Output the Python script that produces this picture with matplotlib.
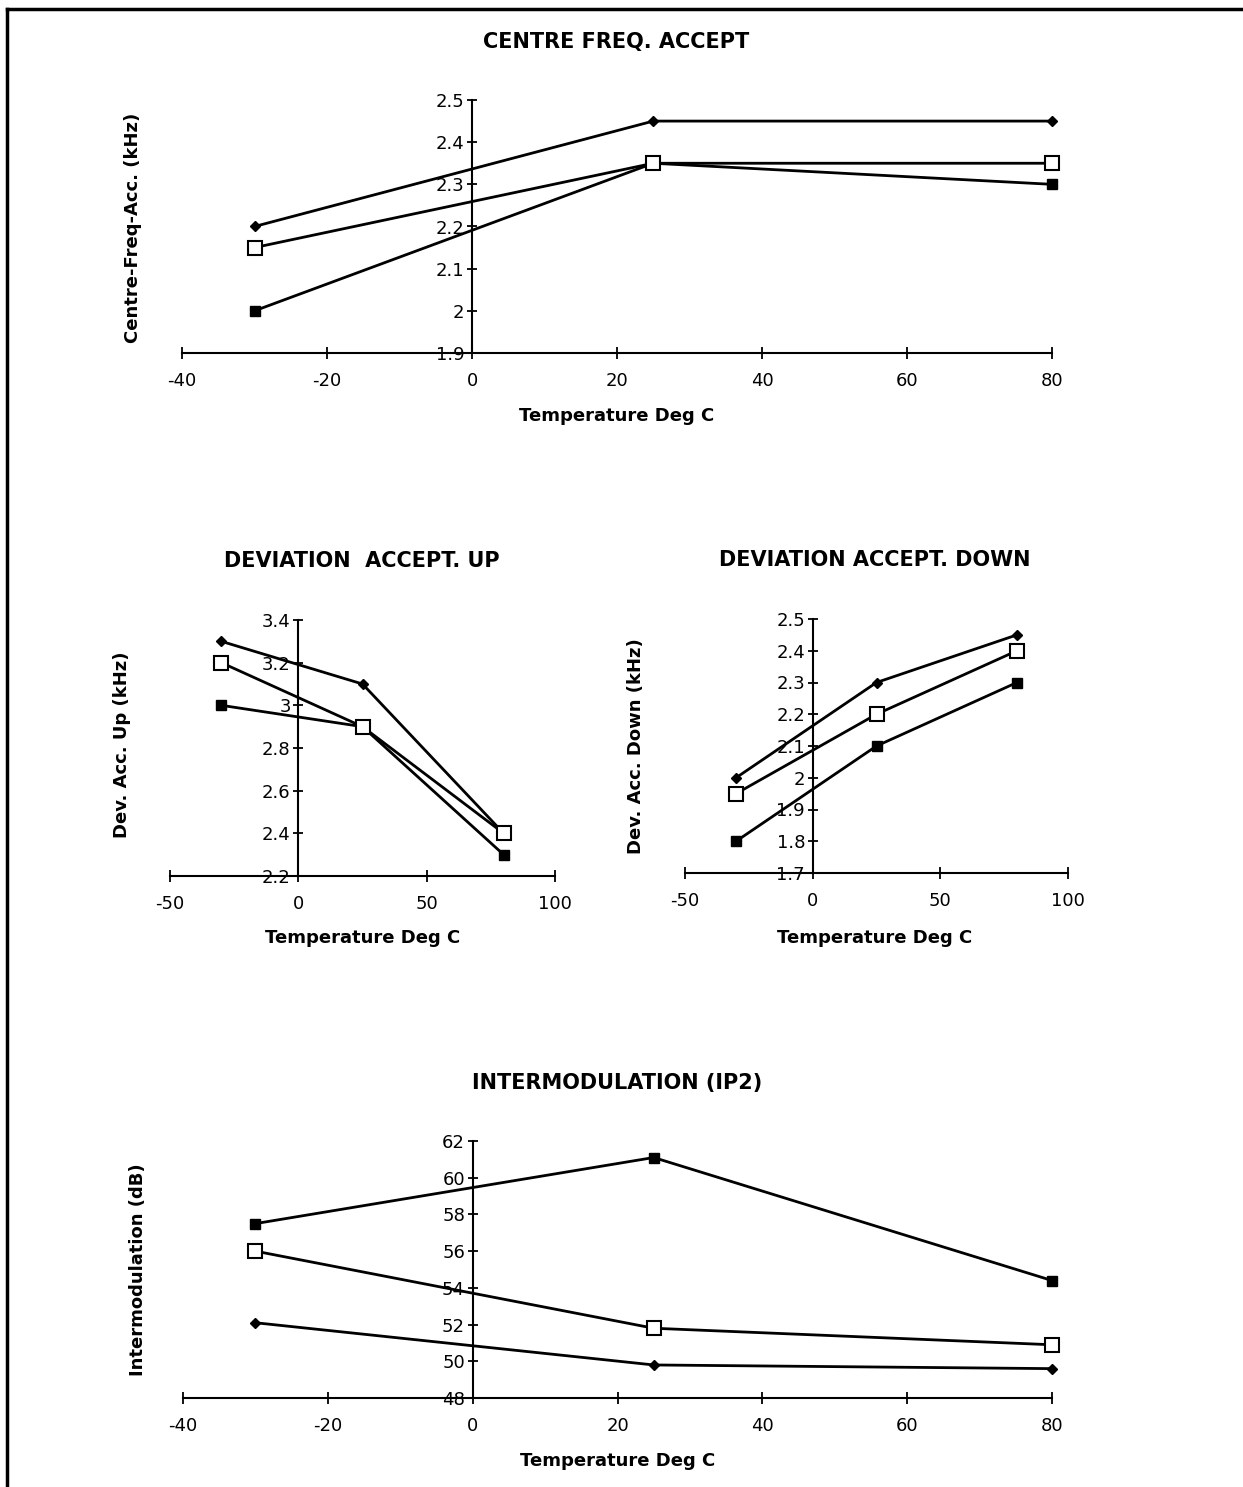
import matplotlib
matplotlib.use("Agg")
import matplotlib.pyplot as plt
from matplotlib.lines import Line2D

plt.rcParams['font.family'] = ['DejaVu Sans']
plt.rcParams['axes.unicode_minus'] = False

temps = [-30, 25, 80]

# Centre freq accept (kHz)
cf_diamond = [2.20, 2.45, 2.45]
cf_open = [2.15, 2.35, 2.35]
cf_filled = [2.00, 2.35, 2.30]

# Deviation accept up (kHz)
up_diamond = [3.3, 3.1, 2.4]
up_open = [3.2, 2.9, 2.4]
up_filled = [3.0, 2.9, 2.3]

# Deviation accept down (kHz)
dn_diamond = [2.00, 2.30, 2.45]
dn_open = [1.95, 2.20, 2.40]
dn_filled = [1.80, 2.10, 2.30]

# Intermodulation IP2 (dB)
im_filled = [57.5, 61.1, 54.4]
im_open = [56.0, 51.8, 50.9]
im_diamond = [52.1, 49.8, 49.6]

fig = plt.figure(figsize=(12.43, 14.87), dpi=100)

# frame (top and left)
fig.add_artist(Line2D([7/1243, 7/1243], [0, 1 - 9/1487], transform=fig.transFigure, color='black', lw=2.5))
fig.add_artist(Line2D([7/1243, 1], [1 - 9/1487, 1 - 9/1487], transform=fig.transFigure, color='black', lw=2.5))


def px_rect(l, r, t, b):
    W, H = 1243, 1487
    return [l / W, 1 - b / H, (r - l) / W, (b - t) / H]


def style(ax, xlim, xticks, ylim, yticks, yfmt):
    ax.set_xlim(*xlim)
    ax.set_ylim(*ylim)
    ax.set_xticks(xticks)
    ax.set_yticks(yticks)
    ax.set_yticklabels([yfmt(v) for v in yticks])
    ax.spines['left'].set_position(('data', 0))
    ax.spines['top'].set_visible(False)
    ax.spines['right'].set_visible(False)
    for s in ('left', 'bottom'):
        ax.spines[s].set_linewidth(1.5)
    ax.tick_params(axis='x', direction='inout', length=8, width=1.3, labelsize=13, pad=10)
    ax.tick_params(axis='y', direction='inout', length=7, width=1.3, labelsize=13, pad=2)
    ax.patch.set_alpha(0)


def plot_series(ax, diamond, opn, filled):
    kw = dict(color='black', lw=2)
    ax.plot(temps, diamond, marker='D', ms=5, mfc='black', mec='black', **kw, zorder=3, clip_on=False)
    ax.plot(temps, opn, marker='s', ms=10, mfc='white', mec='black', mew=1.5, **kw, zorder=4, clip_on=False)
    ax.plot(temps, filled, marker='s', ms=7, mfc='black', mec='black', **kw, zorder=3, clip_on=False)


def fmt1(v):
    s = f"{v:.1f}"
    return s[:-2] if s.endswith('.0') else s


# --- Chart 1 ---
ax1 = fig.add_axes(px_rect(182, 1052, 100, 353))
plot_series(ax1, cf_diamond, cf_open, cf_filled)
style(ax1, (-40, 80), [-40, -20, 0, 20, 40, 60, 80], (1.9, 2.5),
      [1.9, 2.0, 2.1, 2.2, 2.3, 2.4, 2.5], fmt1)
fig.text(616/1243, 1 - 42/1487, 'CENTRE FREQ. ACCEPT', ha='center', va='center', fontsize=15, fontweight='bold')
fig.text(133/1243, 1 - 228/1487, 'Centre-Freq-Acc. (kHz)', ha='center', va='center', rotation=90, fontsize=13, fontweight='bold')
fig.text(617/1243, 1 - 416/1487, 'Temperature Deg C', ha='center', va='center', fontsize=13, fontweight='bold')

# --- Chart 2 ---
ax2 = fig.add_axes(px_rect(170, 555, 620, 876))
plot_series(ax2, up_diamond, up_open, up_filled)
style(ax2, (-50, 100), [-50, 0, 50, 100], (2.2, 3.4),
      [2.2, 2.4, 2.6, 2.8, 3.0, 3.2, 3.4], fmt1)
fig.text(362/1243, 1 - 561/1487, 'DEVIATION  ACCEPT. UP', ha='center', va='center', fontsize=15, fontweight='bold')
fig.text(122/1243, 1 - 745/1487, 'Dev. Acc. Up (kHz)', ha='center', va='center', rotation=90, fontsize=13, fontweight='bold')
fig.text(363/1243, 1 - 938/1487, 'Temperature Deg C', ha='center', va='center', fontsize=13, fontweight='bold')

# --- Chart 3 ---
ax3 = fig.add_axes(px_rect(685, 1068, 619, 873))
plot_series(ax3, dn_diamond, dn_open, dn_filled)
style(ax3, (-50, 100), [-50, 0, 50, 100], (1.7, 2.5),
      [1.7, 1.8, 1.9, 2.0, 2.1, 2.2, 2.3, 2.4, 2.5], fmt1)
fig.text(875/1243, 1 - 560/1487, 'DEVIATION ACCEPT. DOWN', ha='center', va='center', fontsize=15, fontweight='bold')
fig.text(636/1243, 1 - 746/1487, 'Dev. Acc. Down (kHz)', ha='center', va='center', rotation=90, fontsize=13, fontweight='bold')
fig.text(875/1243, 1 - 938/1487, 'Temperature Deg C', ha='center', va='center', fontsize=13, fontweight='bold')

# --- Chart 4 ---
ax4 = fig.add_axes(px_rect(183, 1052, 1141, 1398))
plot_series(ax4, im_diamond, im_open, im_filled)
style(ax4, (-40, 80), [-40, -20, 0, 20, 40, 60, 80], (48, 62),
      [48, 50, 52, 54, 56, 58, 60, 62], lambda v: f"{v:.0f}")
fig.text(617/1243, 1 - 1083/1487, 'INTERMODULATION (IP2)', ha='center', va='center', fontsize=15, fontweight='bold')
fig.text(138/1243, 1 - 1270/1487, 'Intermodulation (dB)', ha='center', va='center', rotation=90, fontsize=13, fontweight='bold')
fig.text(618/1243, 1 - 1461/1487, 'Temperature Deg C', ha='center', va='center', fontsize=13, fontweight='bold')

fig.savefig('out.png', dpi=100, facecolor='white')
